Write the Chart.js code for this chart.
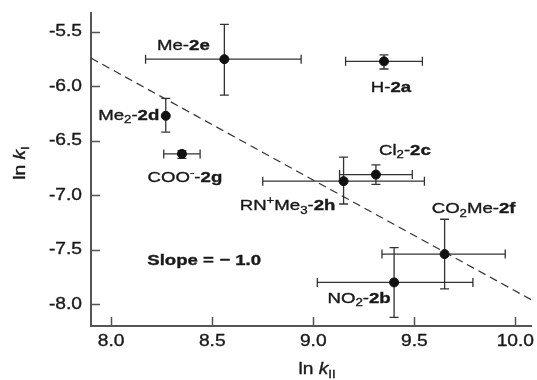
<!DOCTYPE html>
<html>
<head>
<meta charset="utf-8">
<script src="https://cdn.jsdelivr.net/npm/chart.js@4.4.0/dist/chart.umd.min.js"></script>
<style>
  html, body { margin: 0; padding: 0; background: #fff; }
  canvas { display: block; }
</style>
</head>
<body>
<canvas id="myChart" width="537" height="380"></canvas>
<script>
// compounds 2a .. 2h
const compounds = ["2a", "2b", "2c", "2d", "2e", "2f", "2g", "2h"];
const lnKII     = [9.35, 9.40, 9.31, 8.27, 8.56, 9.65, 8.35, 9.15];
const lnKI      = [-5.77, -7.80, -6.81, -6.27, -5.75, -7.54, -6.62, -6.87];
// error bar bounds
const lnKIILow  = [9.16, 9.02, 9.13, 8.27, 8.17, 9.34, 8.26, 8.75];
const lnKIIHigh = [9.54, 9.79, 9.49, 8.27, 8.94, 9.95, 8.44, 9.55];
const lnKILow   = [-5.84, -8.12, -6.90, -6.42, -6.08, -7.86, -6.66, -7.08];
const lnKIHigh  = [-5.71, -7.48, -6.72, -6.11, -5.43, -7.22, -6.59, -6.65];

// substituent names, [text, style]
const names = [
  [["H-", ""], ["2a", "b"]],
  [["NO", ""], ["2", "sub"], ["-", ""], ["2b", "b"]],
  [["Cl", ""], ["2", "sub"], ["-", ""], ["2c", "b"]],
  [["Me", ""], ["2", "sub"], ["-", ""], ["2d", "b"]],
  [["Me-", ""], ["2e", "b"]],
  [["CO", ""], ["2", "sub"], ["Me-", ""], ["2f", "b"]],
  [["COO", ""], ["-", "sup"], ["-", ""], ["2g", "b"]],
  [["RN", ""], ["+", "sup"], ["Me", ""], ["3", "sub"], ["-", ""], ["2h", "b"]]
];

// dashed fit line, slope -1.0
const fitLine = [{x: 7.9, y: -5.74}, {x: 10.08, y: -7.96}];
const slopeLabel = "Slope = \u2212 1.0";

const xTicks = [8.0, 8.5, 9.0, 9.5, 10.0];
const yTicks = [-5.5, -6.0, -6.5, -7.0, -7.5, -8.0];

// label offsets from each point, px
const labelOffsets = [[7, 26], [-35, 16], [29, -24], [-37, 0], [-41, -13], [29, -45], [3, 24], [-56, 25]];

const FONT = "'Liberation Sans', Arial, Helvetica, sans-serif";
const SX = 1.2;   // the original lettering is a bit wide
const INK = "#1a1a1a";
const AXIS = "#555";

function drawRich(ctx, parts, x, y, size, align) {
  const fontFor = st => {
    if (st === "b") return `bold ${size}px ${FONT}`;
    if (st === "i") return `italic ${size}px ${FONT}`;
    if (st === "sub" || st === "sup") return `${Math.round(size * 0.7)}px ${FONT}`;
    return `${size}px ${FONT}`;
  };
  ctx.save();
  ctx.fillStyle = INK;
  ctx.strokeStyle = INK;
  ctx.lineWidth = 0.35;
  ctx.textBaseline = "middle";
  ctx.textAlign = "left";
  let w = 0;
  parts.forEach(([t, st]) => { ctx.font = fontFor(st); w += ctx.measureText(t).width; });
  ctx.translate(x, y);
  ctx.scale(SX, 1);
  let cx = align === "center" ? -w / 2 : align === "right" ? -w : 0;
  parts.forEach(([t, st]) => {
    ctx.font = fontFor(st);
    const dy = st === "sub" ? size * 0.3 : st === "sup" ? -size * 0.35 : 0;
    ctx.fillText(t, cx, dy);
    ctx.strokeText(t, cx, dy);
    cx += ctx.measureText(t).width;
  });
  ctx.restore();
}

const errorBars = {
  id: "errorBars",
  beforeDatasetsDraw(chart) {
    const {ctx, scales: {x, y}} = chart;
    const cap = 4.5;
    ctx.save();
    ctx.strokeStyle = "#333";
    ctx.lineWidth = 1.3;
    lnKII.forEach((v, i) => {
      const px = x.getPixelForValue(v), py = y.getPixelForValue(lnKI[i]);
      ctx.beginPath();
      if (lnKIIHigh[i] > lnKIILow[i]) {
        const x1 = x.getPixelForValue(lnKIILow[i]), x2 = x.getPixelForValue(lnKIIHigh[i]);
        ctx.moveTo(x1, py); ctx.lineTo(x2, py);
        ctx.moveTo(x1, py - cap); ctx.lineTo(x1, py + cap);
        ctx.moveTo(x2, py - cap); ctx.lineTo(x2, py + cap);
      }
      if (lnKIHigh[i] > lnKILow[i]) {
        const y1 = y.getPixelForValue(lnKILow[i]), y2 = y.getPixelForValue(lnKIHigh[i]);
        ctx.moveTo(px, y1); ctx.lineTo(px, y2);
        ctx.moveTo(px - cap, y1); ctx.lineTo(px + cap, y1);
        ctx.moveTo(px - cap, y2); ctx.lineTo(px + cap, y2);
      }
      ctx.stroke();
    });
    ctx.restore();
  }
};

const decorations = {
  id: "decorations",
  afterDraw(chart) {
    const {ctx, chartArea: area, scales: {x, y}} = chart;
    ctx.save();
    // inward ticks
    ctx.strokeStyle = AXIS;
    ctx.lineWidth = 1.5;
    ctx.beginPath();
    xTicks.forEach(v => {
      const px = Math.round(x.getPixelForValue(v)) + 0.5;
      ctx.moveTo(px, area.bottom); ctx.lineTo(px, area.bottom - 9);
    });
    yTicks.forEach(v => {
      const py = Math.round(y.getPixelForValue(v)) + 0.5;
      ctx.moveTo(area.left, py); ctx.lineTo(area.left + 9, py);
    });
    ctx.stroke();
    ctx.restore();

    // tick labels
    xTicks.forEach(v => drawRich(ctx, [[v.toFixed(1), ""]], x.getPixelForValue(v), area.bottom + 16, 16, "center"));
    yTicks.forEach(v => drawRich(ctx, [[v.toFixed(1), ""]], area.left - 9, y.getPixelForValue(v), 16, "right"));

    // axis titles
    drawRich(ctx, [["ln ", ""], ["k", "i"], ["II", "sub"]], 317, 370, 16, "center");
    ctx.save();
    ctx.translate(21, 163);
    ctx.rotate(-Math.PI / 2);
    drawRich(ctx, [["ln ", ""], ["k", "i"], ["I", "sub"]], 0, 0, 16, "center");
    ctx.restore();

    // point names
    names.forEach((parts, i) => {
      const [dx, dy] = labelOffsets[i];
      drawRich(ctx, parts, x.getPixelForValue(lnKII[i]) + dx, y.getPixelForValue(lnKI[i]) + dy, 15.5, "center");
    });

    drawRich(ctx, [[slopeLabel, "b"]], x.getPixelForValue(8.46), y.getPixelForValue(-7.605), 15.5, "center");
  }
};

const points = lnKII.map((v, i) => ({x: v, y: lnKI[i]}));

var ctx = document.getElementById("myChart").getContext("2d");
new Chart(ctx, {
  type: "scatter",
  data: {
    datasets: [
      {
        type: "scatter",
        label: "compounds",
        data: points,
        backgroundColor: "#111",
        borderColor: "#111",
        pointRadius: 4.5,
        pointHoverRadius: 4.5
      },
      {
        type: "line",
        label: "fit",
        data: fitLine,
        borderColor: "#333",
        borderWidth: 1.2,
        borderDash: [8, 5],
        pointRadius: 0,
        fill: false,
        tension: 0
      }
    ]
  },
  options: {
    responsive: false,
    animation: false,
    layout: { padding: { top: 13, right: 0, left: 0, bottom: 0 } },
    plugins: { legend: { display: false }, tooltip: { enabled: false } },
    scales: {
      x: {
        type: "linear",
        min: 7.9,
        max: 10.08,
        grid: { display: false },
        border: { color: AXIS, width: 2 },
        ticks: { display: false },
        afterBuildTicks: s => { s.ticks = xTicks.map(v => ({value: v})); },
        afterFit: s => { s.height = 54; }
      },
      y: {
        type: "linear",
        min: -8.2,
        max: -5.326,
        grid: { display: false },
        border: { color: AXIS, width: 2 },
        ticks: { display: false },
        afterBuildTicks: s => { s.ticks = yTicks.map(v => ({value: v})); },
        afterFit: s => { s.width = 91; }
      }
    }
  },
  plugins: [errorBars, decorations]
});
</script>
</body>
</html>
